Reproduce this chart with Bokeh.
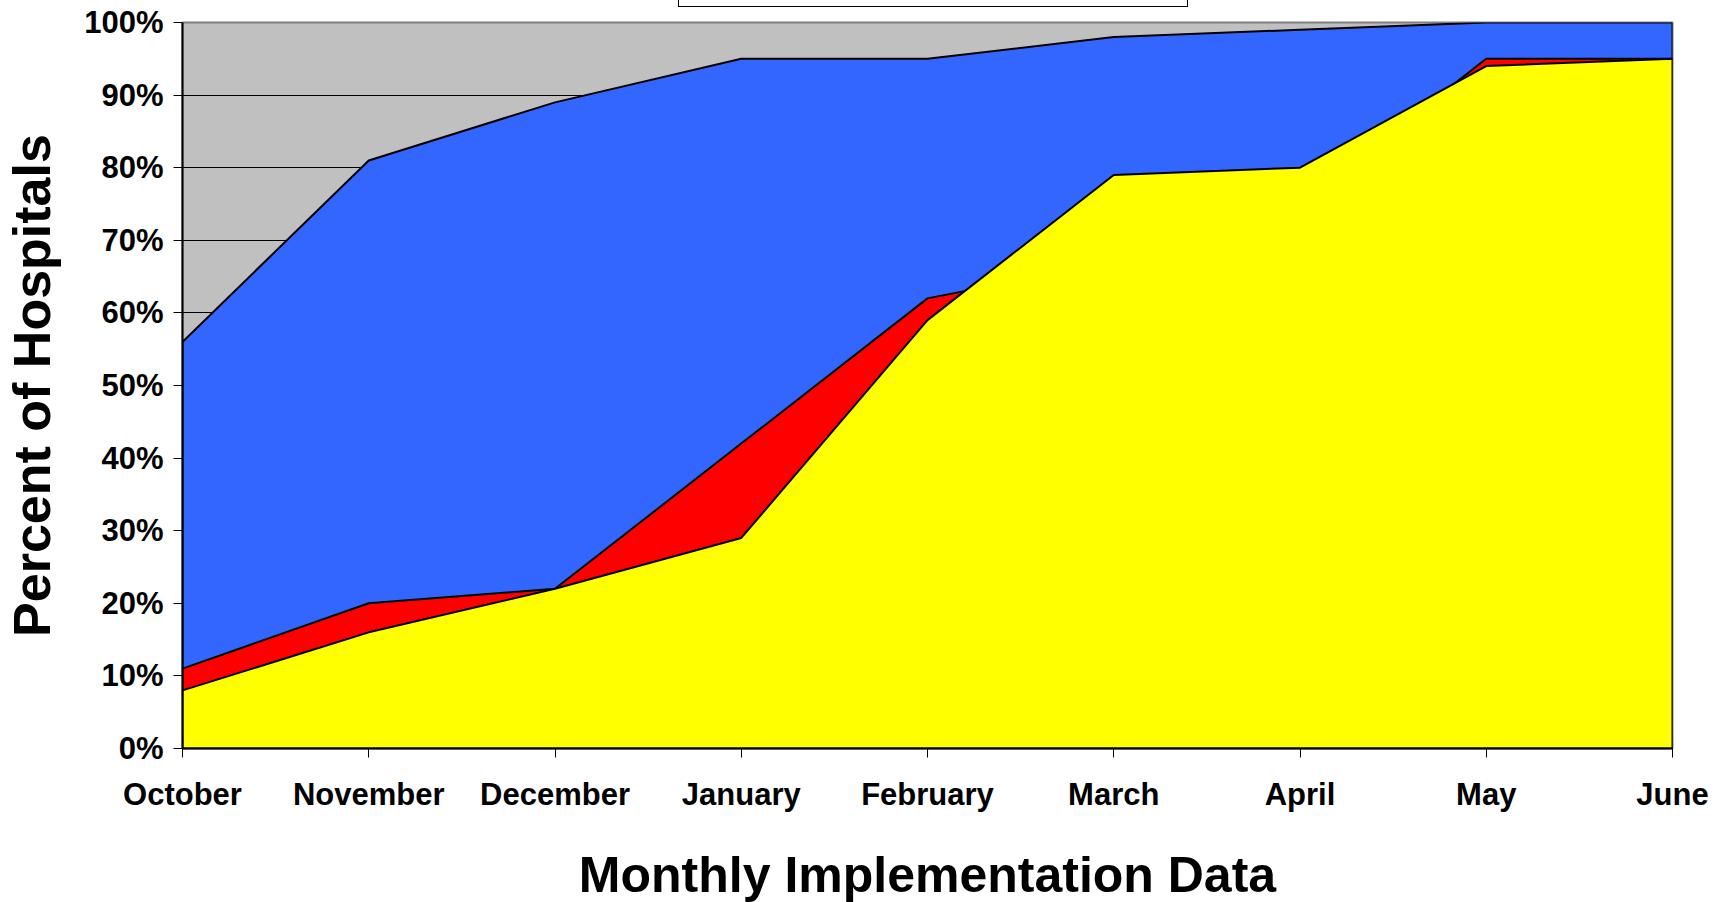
from bokeh.plotting import figure
from bokeh.models import Range1d, FixedTicker, PrintfTickFormatter, Div
from bokeh.layouts import column
from bokeh.embed import file_html
from bokeh.resources import INLINE

months = ["October", "November", "December", "January", "February",
          "March", "April", "May", "June"]
# Overlapping (non-stacked) area series, percent of hospitals
blue_vals = [56, 81, 89, 95, 95, 98, 99, 100, 100]
red_vals = [11, 20, 22, 42, 62, 67, 75, 95, 95]
yellow_vals = [8, 16, 22, 29, 59, 79, 80, 94, 95]
y_ticks = [0, 10, 20, 30, 40, 50, 60, 70, 80, 90, 100]

FONT = "Liberation Sans"
xs = list(range(len(months)))

p = figure(frame_width=1490, frame_height=726,
           min_border_left=176, min_border_right=41,
           min_border_top=22, min_border_bottom=140,
           x_range=Range1d(0, len(months) - 1), y_range=Range1d(0, 100),
           output_backend="svg", toolbar_location=None, tools="")

p.background_fill_color = "#C0C0C0"
p.border_fill_color = "white"
p.outline_line_color = "#808080"
p.outline_line_width = 2

def area(vals, color):
    px = xs + [xs[-1], xs[0]]
    py = list(vals) + [0, 0]
    p.patch(px, py, fill_color=color, line_color="black", line_width=2)

area(blue_vals, "#3366FF")
area(red_vals, "#FF0000")
area(yellow_vals, "#FFFF00")

p.xgrid.visible = False
p.ygrid.ticker = FixedTicker(ticks=y_ticks)
p.ygrid.grid_line_color = "black"
p.ygrid.grid_line_width = 1
p.ygrid.level = "image"

p.xaxis.ticker = FixedTicker(ticks=xs)
p.xaxis.major_label_overrides = {i: m for i, m in enumerate(months)}
p.yaxis.ticker = FixedTicker(ticks=y_ticks)
p.yaxis.formatter = PrintfTickFormatter(format="%d%%")

for ax in (p.xaxis[0], p.yaxis[0]):
    ax.axis_line_color = "black"
    ax.axis_line_width = 2
    ax.major_tick_line_color = "black"
    ax.major_tick_line_width = 1
    ax.major_tick_out = 9
    ax.major_tick_in = 0
    ax.minor_tick_line_color = None
    ax.major_label_text_font = FONT
    ax.major_label_text_font_style = "bold"
    ax.major_label_text_font_size = "31px"
    ax.major_label_text_color = "black"
    ax.axis_label_text_font = FONT
    ax.axis_label_text_font_style = "bold"
    ax.axis_label_text_color = "black"

p.xaxis.axis_label = "Monthly Implementation Data"
p.yaxis.axis_label = "Percent of Hospitals"
p.xaxis.axis_label_text_font_size = "50px"
p.yaxis.axis_label_text_font_size = "52px"
p.xaxis.major_label_standoff = 19
p.yaxis.major_label_standoff = 10
p.xaxis.axis_label_standoff = 32
p.yaxis.axis_label_standoff = 20

legend_box = Div(text='<div style="position:fixed;top:-17px;left:678px;width:510px;'
                      'height:24px;border:1px solid #000;background:#fff;"></div>',
                 width=1, height=0)

layout = column(p, legend_box)
open("out.html", "w").write(file_html(layout, INLINE))
